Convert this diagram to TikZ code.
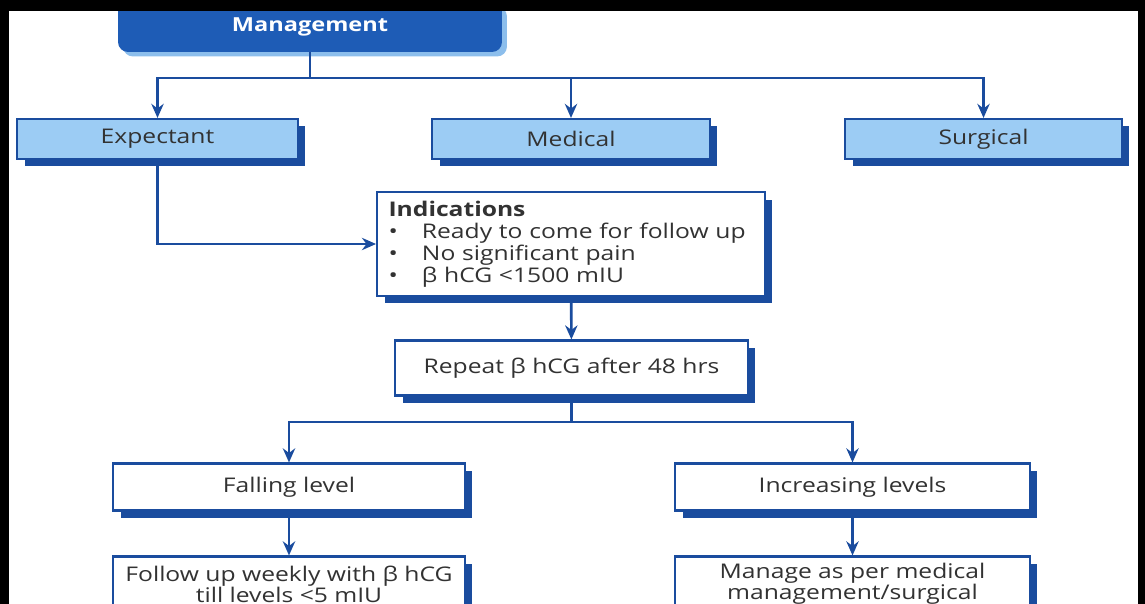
\documentclass[tikz,border=0pt]{standalone}
\usepackage{fontspec}
\setmainfont{Open Sans}[FakeStretch=1.22]
\usetikzlibrary{shadows,arrows.meta}
\definecolor{dkblue}{RGB}{26,76,158}
\definecolor{ltblue}{RGB}{156,204,244}
\definecolor{topblue}{RGB}{30,92,182}
\definecolor{paleblue}{RGB}{140,190,236}
\definecolor{txtgray}{RGB}{50,50,50}
\begin{document}
\begin{tikzpicture}[x=0.02cm,y=-0.02cm,
      box/.style={draw=dkblue,line width=1.2pt,fill=white,text=txtgray,
                  minimum height=0.8cm,align=center,
                  font=\fontsize{11.5}{12.5}\selectfont,
                  drop shadow={shadow xshift=0.15cm,shadow yshift=-0.15cm,
                               fill=dkblue,opacity=1}},
      arr/.style={->,>={Stealth[length=8pt,width=7pt]},line width=1.5pt,draw=dkblue}
    ]
    \clip (0,0) rectangle (1145,604);
    \useasboundingbox (0,0) rectangle (1145,604);
    \fill[white] (0,0) rectangle (1145,604);
    % Top node
    \node[draw=none,fill=topblue,rounded corners=0.2cm,minimum width=7.68cm,
          minimum height=1.0cm,text=white,font=\fontsize{11}{13}\selectfont\bfseries,
          drop shadow={shadow xshift=0.1cm,shadow yshift=-0.09cm,
                       fill=paleblue,opacity=1}] (mgmt) at (310,27) {Management};
    % Three options
    \node[box, fill=ltblue, minimum width=5.62cm] (expect)  at (157.5,139) {Expectant};
    \node[box, fill=ltblue, minimum width=5.56cm] (medical) at (571,139)   {Medical};
    \node[box, fill=ltblue, minimum width=5.54cm] (surgical) at (983.5,139) {Surgical};
    % Expectant path
    \node[box, minimum width=7.76cm, minimum height=1.98cm, text width=7.3cm,
          align=left, inner sep=5pt] (indic) at (571,244)
         {\textbf{Indications}\\
          \makebox[19pt][l]{\textbullet}Ready to come for follow up\\
          \makebox[19pt][l]{\textbullet}No significant pain\\
          \makebox[19pt][l]{\textbullet}β hCG <1500 mIU};
    \node[box, minimum width=7.06cm, minimum height=1.1cm] (repeat) at (571.5,368)
         {Repeat β hCG after 48 hrs};
    \node[box, minimum width=7.04cm, minimum height=0.94cm] (falling)  at (289,487) {Falling level};
    \node[box, minimum width=7.1cm,  minimum height=0.94cm] (increase) at (852.5,487) {Increasing levels};
    \node[box, minimum width=7.04cm, minimum height=1.1cm,
          font=\fontsize{11.5}{11.8}\selectfont] (follow) at (289,584)
         {Follow up weekly with β hCG\\till levels <5 mIU};
    \node[box, minimum width=7.1cm,  minimum height=1.1cm,
          font=\fontsize{11.5}{11.8}\selectfont] (manage) at (852.5,584)
         {Manage as per medical\\management/surgical};
    % Arrows
    \coordinate (bus1) at (310,78);
    \coordinate (bus2) at (571.5,422);
    \draw[arr,-] (mgmt) -- (bus1);
    \draw[arr] (bus1) -| (expect);
    \draw[arr] (bus1) -| (medical);
    \draw[arr] (bus1) -| (surgical);
    \draw[arr] (expect.south) |- (indic.west);
    \draw[arr] (indic) -- (repeat);
    \draw[arr,-] (repeat) -- (bus2);
    \draw[arr] (bus2) -| (falling);
    \draw[arr] (bus2) -| (increase);
    \draw[arr] (falling)  -- (follow);
    \draw[arr] (increase) -- (manage);
    % Screen frame
    \fill[black] (0,0) rectangle (1145,11);
    \fill[black] (0,0) rectangle (9,604);
    \fill[black] (1138,0) rectangle (1145,604);
  \end{tikzpicture}
\end{document}
